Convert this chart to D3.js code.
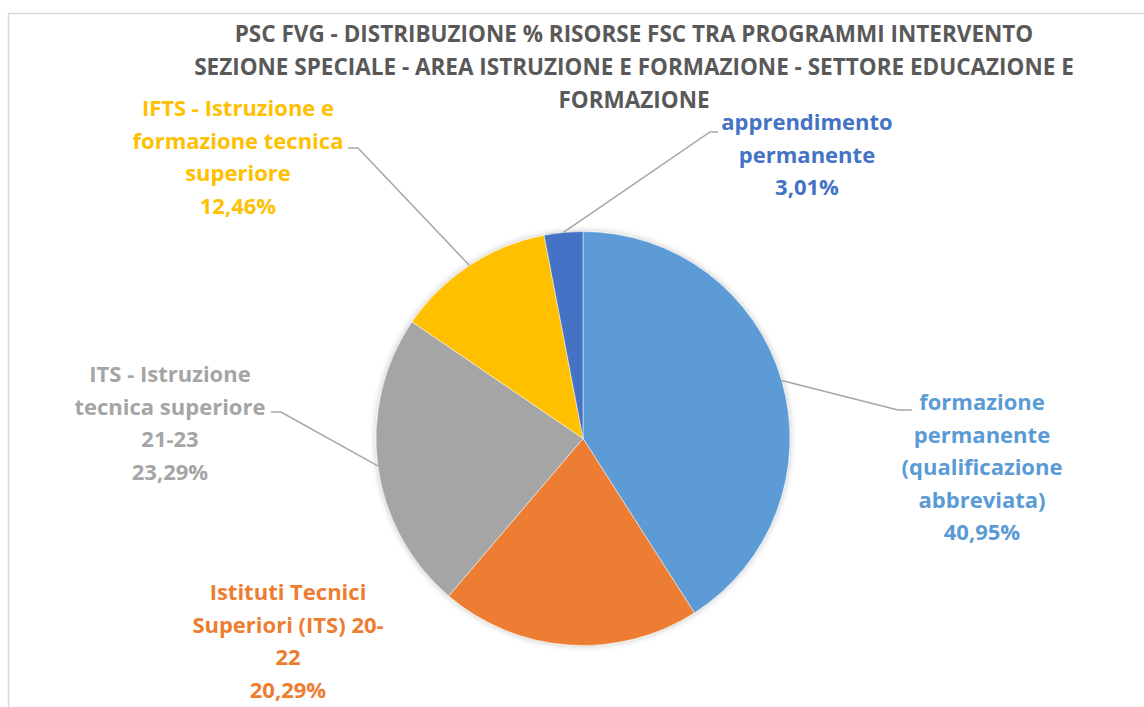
<!DOCTYPE html>
<html>
<head>
<meta charset="utf-8">
<script src="https://cdn.jsdelivr.net/npm/d3@7"></script>
<style>
  html, body { margin: 0; padding: 0; background: #fff; }
  svg { display: block; font-family: "Open Sans", Lato, sans-serif; }
</style>
</head>
<body>
<div id="chart"></div>
<script>
// chart data
const categories = [
  "formazione permanente (qualificazione abbreviata)",
  "Istituti Tecnici Superiori (ITS) 20-22",
  "ITS - Istruzione tecnica superiore 21-23",
  "IFTS - Istruzione e formazione tecnica superiore",
  "apprendimento permanente"
];
const shares = [40.95, 20.29, 23.29, 12.46, 3.01];
const labelLines = [
  ["formazione", "permanente", "(qualificazione", "abbreviata)"],
  ["Istituti Tecnici", "Superiori (ITS) 20-", "22"],
  ["ITS - Istruzione", "tecnica superiore", "21-23"],
  ["IFTS - Istruzione e", "formazione tecnica", "superiore"],
  ["apprendimento", "permanente"]
];
const titleLines = [
  "PSC FVG - DISTRIBUZIONE % RISORSE FSC TRA PROGRAMMI INTERVENTO",
  "SEZIONE SPECIALE - AREA ISTRUZIONE E FORMAZIONE - SETTORE EDUCAZIONE E",
  "FORMAZIONE"
];

// layout / style
const width = 1144, height = 707;
const colors = ["#5B9BD5", "#ED7D31", "#A5A5A5", "#FFC000", "#4472C4"];
const center = { x: 583, y: 438.5 };
const radius = 207;
const lineH = 32.5;
// label placement: centre x, first baseline, leader elbow and end (null = no leader)
const labelLayout = [
  { x: 982, y: 410, elbow: [898, 410], end: [912, 410] },
  { x: 288, y: 600, elbow: null },
  { x: 170, y: 382, elbow: [281, 412], end: [271, 412] },
  { x: 238, y: 116, elbow: [358, 148], end: [348, 148] },
  { x: 807, y: 130, elbow: [710, 132], end: [718, 132] }
];

const svg = d3.select('#chart').append('svg')
  .attr('width', width)
  .attr('height', height);

const defs = svg.append('defs');
const shadow = defs.append('filter')
  .attr('id', 'shadow')
  .attr('x', '-20%').attr('y', '-20%')
  .attr('width', '140%').attr('height', '140%');
shadow.append('feDropShadow')
  .attr('dx', 0).attr('dy', 0)
  .attr('stdDeviation', 3)
  .attr('flood-color', '#000')
  .attr('flood-opacity', 0.25);

// chart area border
svg.append('rect')
  .attr('x', 8.5).attr('y', 13.5)
  .attr('width', width + 20).attr('height', height + 20)
  .attr('fill', '#fff')
  .attr('stroke', '#d9d9d9')
  .attr('stroke-width', 1.5);

// title
svg.append('text')
  .attr('text-anchor', 'middle')
  .attr('font-size', 22.5)
  .attr('font-weight', 'bold')
  .attr('fill', '#595959')
  .selectAll('tspan')
  .data(titleLines)
  .join('tspan')
    .attr('x', 634)
    .attr('y', (d, i) => 42 + i * 33)
    .text(d => d);

const data = categories.map((c, i) => ({ name: c, value: shares[i], i }));

const pie = d3.pie()
  .value(d => d.value)
  .sort(null);

const arcs = pie(data);

const arc = d3.arc().innerRadius(0).outerRadius(radius);
const edgeArc = d3.arc().innerRadius(radius).outerRadius(radius);

const g = svg.append('g')
  .attr('transform', `translate(${center.x},${center.y})`);

// leader lines (drawn under the pie)
const leaders = svg.append('g');
arcs.forEach(a => {
  const lay = labelLayout[a.index];
  if (!lay.elbow) return;
  const [ex, ey] = edgeArc.centroid(a);
  leaders.append('polyline')
    .attr('points', [[center.x + ex, center.y + ey], lay.elbow, lay.end].map(p => p.join(',')).join(' '))
    .attr('fill', 'none')
    .attr('stroke', '#a6a6a6')
    .attr('stroke-width', 1.5);
});

g.append('g')
  .attr('filter', 'url(#shadow)')
  .selectAll('path')
  .data(arcs)
  .join('path')
    .attr('d', arc)
    .attr('fill', d => colors[d.index])
    .attr('stroke', '#fff')
    .attr('stroke-width', 0.5);

// data labels
const fmt = v => v.toFixed(2).replace('.', ',') + '%';

svg.append('g')
  .selectAll('text')
  .data(arcs)
  .join('text')
    .attr('text-anchor', 'middle')
    .attr('font-size', 22)
    .attr('font-weight', 'bold')
    .attr('fill', d => colors[d.index])
    .each(function(d) {
      const lay = labelLayout[d.index];
      const lines = labelLines[d.index].concat([fmt(d.data.value)]);
      d3.select(this).selectAll('tspan')
        .data(lines)
        .join('tspan')
          .attr('x', lay.x)
          .attr('y', (t, j) => lay.y + j * lineH)
          .text(t => t);
    });
</script>
</body>
</html>
